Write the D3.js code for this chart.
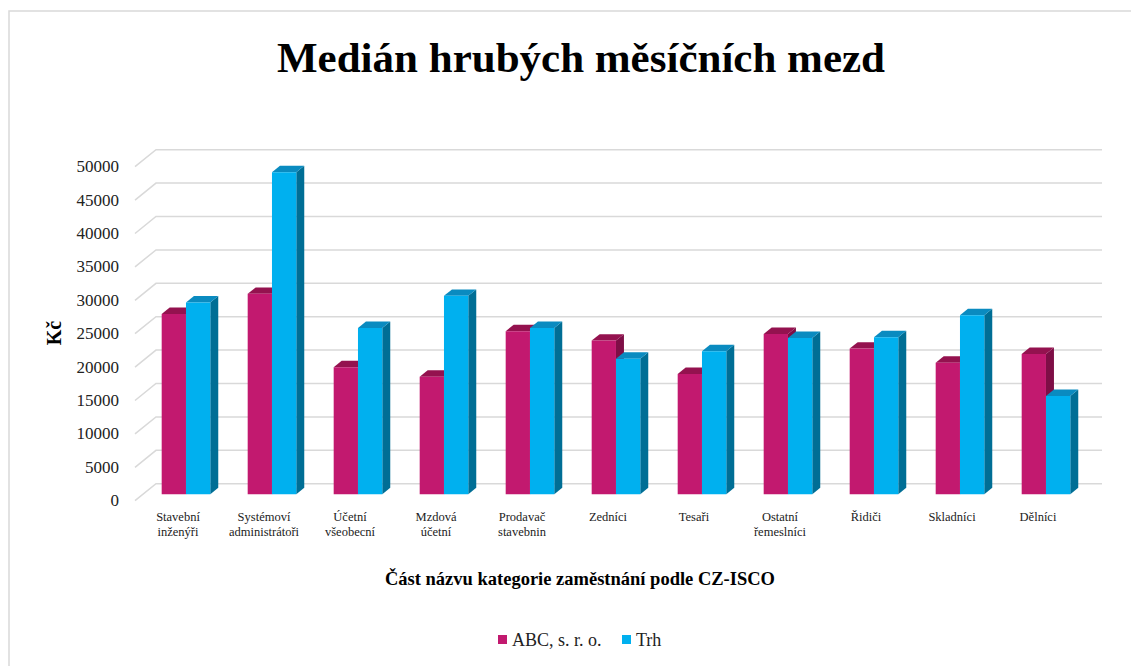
<!DOCTYPE html>
<html>
<head>
<meta charset="utf-8">
<script src="https://cdn.jsdelivr.net/npm/d3@7"></script>
<style>
  body { margin: 0; background: #fff; }
  svg { display: block; font-family: "Liberation Serif", "Times New Roman", serif; }
</style>
</head>
<body>
<svg id="chart" width="1131" height="666"></svg>
<script>
const categories = ["Stavební\ninženýři", "Systémoví\nadministrátoři", "Účetní\nvšeobecní", "Mzdová\núčetní",
  "Prodavač\nstavebnin", "Zedníci", "Tesaři", "Ostatní\nřemeslníci", "Řidiči", "Skladníci", "Dělníci"]
const abcValues = [27000, 30000, 19000, 17600, 24400, 23000, 18000, 24000, 21800, 19700, 21000]
const trhValues = [28700, 48200, 24900, 29700, 24900, 20300, 21400, 23400, 23500, 26800, 14700]
const seriesNames = ["ABC, s. r. o.", "Trh"]
const yTicks = [0, 5000, 10000, 15000, 20000, 25000, 30000, 35000, 40000, 45000, 50000]

const colors = [
  { front: "#C2196F", top: "#94124F", side: "#7E0E46" },
  { front: "#00B0EF", top: "#0A8BC0", side: "#006E95" }
]

const svg = d3.select("#chart")

// depth of the fake 3d box: full wall offset
const DX = 21, DY = -17
const barNear = 0.38, barFar = 0.76

let x = d3.scaleBand()
  .domain(categories)
  .range([135, 1081])
  .paddingInner(0.435)
  .paddingOuter(0.2175)

let xSeries = d3.scaleBand()
  .domain([0, 1])
  .range([0, x.bandwidth()])

let y = d3.scaleLinear()
  .domain([0, 50000])
  .range([500.7, 166.7])

let proj = (px, v, depth) => [px + depth * DX, y(v) + depth * DY]

// frame
svg.append("path")
  .attr("d", "M9,700 L9,11 L1140,11")
  .attr("fill", "none")
  .attr("stroke", "#D9D9D9")
  .attr("stroke-width", 1.5)

// gridlines: diagonal on the side wall + horizontal along the back wall
svg.append("g")
  .selectAll("path")
  .data(yTicks)
  .join("path")
  .attr("d", d => {
    let a = proj(x.range()[0], d, 0)
    let b = proj(x.range()[0], d, 1)
    let c = proj(x.range()[1], d, 1)
    return "M" + a + "L" + b + "L" + c
  })
  .attr("fill", "none")
  .attr("stroke", "#D9D9D9")
  .attr("stroke-width", 1.5)

// y tick labels
svg.append("g")
  .selectAll("text")
  .data(yTicks)
  .join("text")
  .attr("x", 119)
  .attr("y", d => y(d) + 5.5)
  .attr("text-anchor", "end")
  .attr("font-size", 17)
  .attr("fill", "#222")
  .text(d => d)

// bars
let bars = []
categories.forEach((c, i) => {
  bars.push({ cat: c, s: 0, value: abcValues[i] })
  bars.push({ cat: c, s: 1, value: trhValues[i] })
})

let poly = pts => "M" + pts.join("L") + "Z"

let barG = svg.append("g")
  .selectAll("g")
  .data(bars)
  .join("g")

barG.each((d, i, e) => {
  let g = d3.select(e[i])
  let x0 = x(d.cat) + xSeries(d.s)
  let x1 = x0 + xSeries.bandwidth()
  let col = colors[d.s]
  let fTL = proj(x0, d.value, barNear), fTR = proj(x1, d.value, barNear)
  let fBL = proj(x0, 0, barNear), fBR = proj(x1, 0, barNear)
  let bTL = proj(x0, d.value, barFar), bTR = proj(x1, d.value, barFar)
  let bBR = proj(x1, 0, barFar)
  g.append("path").attr("d", poly([fTR, bTR, bBR, fBR])).attr("fill", col.side)
  g.append("path").attr("d", poly([fTL, bTL, bTR, fTR])).attr("fill", col.top)
  g.append("path").attr("d", poly([fTL, fTR, fBR, fBL])).attr("fill", col.front)
})

// category labels
svg.append("g")
  .selectAll("text")
  .data(categories)
  .join("text")
  .attr("x", d => x(d) + x.bandwidth() / 2)
  .attr("y", 521)
  .attr("text-anchor", "middle")
  .attr("font-size", 12.5)
  .attr("fill", "#222")
  .selectAll("tspan")
  .data(d => d.split("\n").map((t, j) => ({ t, j, cx: x(d) + x.bandwidth() / 2 })))
  .join("tspan")
  .attr("x", d => d.cx)
  .attr("dy", d => d.j ? 15 : 0)
  .text(d => d.t)

// title
svg.append("text")
  .attr("x", 581)
  .attr("y", 72)
  .attr("text-anchor", "middle")
  .attr("font-size", 43)
  .attr("font-weight", "bold")
  .attr("fill", "#000")
  .text("Medián hrubých měsíčních mezd")

// axis titles
svg.append("text")
  .attr("transform", "translate(61,333) rotate(-90)")
  .attr("text-anchor", "middle")
  .attr("font-size", 20)
  .attr("font-weight", "bold")
  .text("Kč")

svg.append("text")
  .attr("x", 580)
  .attr("y", 585)
  .attr("text-anchor", "middle")
  .attr("font-size", 18.5)
  .attr("font-weight", "bold")
  .text("Část názvu kategorie zaměstnání podle CZ-ISCO")

// legend
let legendX = [498, 622]
let legend = svg.append("g")
  .selectAll("g")
  .data(seriesNames)
  .join("g")
  .attr("transform", (d, i) => "translate(" + legendX[i] + ",635)")

legend.append("rect")
  .attr("width", 9)
  .attr("height", 9)
  .attr("fill", (d, i) => colors[i].front)

legend.append("text")
  .attr("x", 14)
  .attr("y", 10.5)
  .attr("font-size", 18)
  .attr("fill", "#222")
  .text(d => d)
</script>
</body>
</html>
